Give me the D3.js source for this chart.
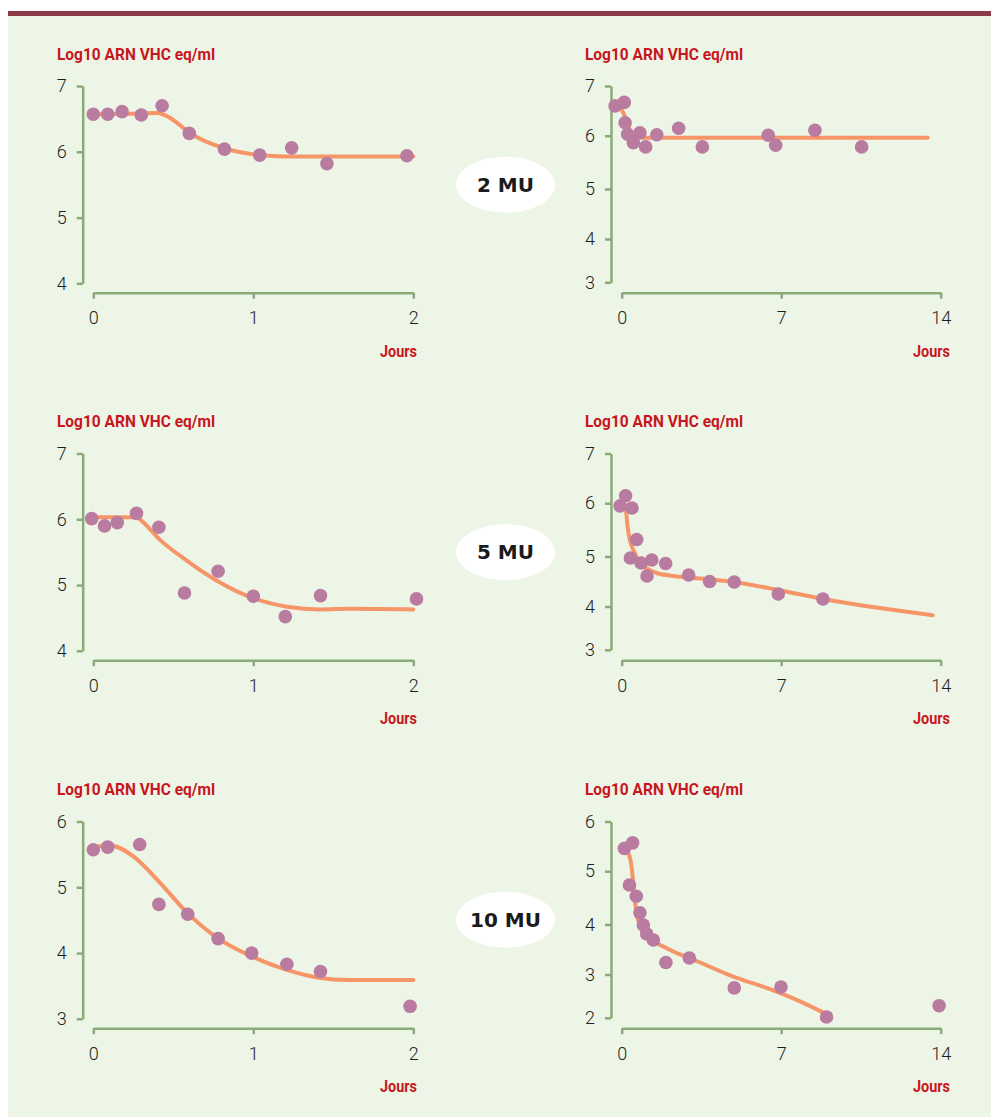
<!DOCTYPE html>
<html>
<head>
<meta charset="utf-8">
<script src="https://cdn.jsdelivr.net/npm/d3@7/dist/d3.min.js"></script>
<style>
  html, body { margin: 0; padding: 0; background: #ffffff; }
  svg { display: block; }
</style>
</head>
<body>
<svg id="chart"></svg>
<script>
// dose labels (one row each)
const doses = ["2 MU", "5 MU", "10 MU"];

// tick labels
const xTicksShort = [0, 1, 2];
const xTicksLong = [0, 7, 14];
const yTicksShort = [[4, 5, 6, 7], [4, 5, 6, 7], [3, 4, 5, 6]];
const yTicksLong = [[3, 4, 5, 6, 7], [3, 4, 5, 6, 7], [2, 3, 4, 5, 6]];

// measured points [jour, log10]  -- 2 jours
const dots2MU_2j = [[0, 6.57], [0.09, 6.57], [0.18, 6.61], [0.30, 6.56], [0.43, 6.70], [0.60, 6.28],
  [0.82, 6.04], [1.04, 5.95], [1.24, 6.06], [1.46, 5.82], [1.96, 5.94]];
const dots5MU_2j = [[-0.01, 6.01], [0.07, 5.90], [0.15, 5.95], [0.27, 6.09], [0.41, 5.88], [0.57, 4.88],
  [0.78, 5.21], [1.00, 4.83], [1.20, 4.52], [1.42, 4.84], [2.02, 4.79]];
const dots10MU_2j = [[0, 5.57], [0.09, 5.61], [0.29, 5.65], [0.41, 4.74], [0.59, 4.59], [0.78, 4.22],
  [0.99, 4.00], [1.21, 3.83], [1.42, 3.72], [1.98, 3.19]];

// measured points -- 14 jours
const dots2MU_14j = [[-0.29, 6.60], [0.11, 6.67], [0.15, 6.26], [0.26, 6.03], [0.51, 5.87], [0.80, 6.06],
  [1.05, 5.79], [1.54, 6.02], [2.50, 6.15], [3.54, 5.79], [6.43, 6.01], [6.76, 5.82], [8.48, 6.11], [10.53, 5.79]];
const dots5MU_14j = [[-0.07, 5.95], [0.17, 6.15], [0.45, 5.91], [0.66, 5.32], [0.38, 4.97], [0.85, 4.87],
  [1.32, 4.93], [1.11, 4.61], [1.93, 4.86], [2.94, 4.63], [3.86, 4.50], [4.94, 4.49], [6.87, 4.25], [8.83, 4.15]];
const dots10MU_14j = [[0.12, 5.46], [0.48, 5.57], [0.34, 4.74], [0.64, 4.53], [0.80, 4.22], [0.95, 3.99],
  [1.10, 3.81], [1.39, 3.69], [1.94, 3.24], [2.97, 3.33], [4.94, 2.69], [6.99, 2.71], [8.99, 2.02], [13.93, 2.28]];

// fitted curves
const fit2MU_2j = [[0, 6.57], [0.25, 6.58], [0.40, 6.59], [0.47, 6.53], [0.54, 6.41], [0.60, 6.29],
  [0.71, 6.15], [0.87, 6.02], [1.04, 5.95], [1.19, 5.93], [2.0, 5.93]];
const fit5MU_2j = [[0, 6.03], [0.27, 6.03], [0.30, 5.98], [0.42, 5.68], [0.58, 5.38], [0.77, 5.07],
  [1.00, 4.80], [1.21, 4.67], [1.42, 4.63], [1.60, 4.64], [2.0, 4.63]];
const fit10MU_2j = [[0, 5.61], [0.10, 5.64], [0.25, 5.47], [0.42, 5.06], [0.58, 4.63], [0.77, 4.24],
  [0.98, 3.96], [1.19, 3.76], [1.40, 3.63], [1.60, 3.59], [2.0, 3.59]];

const fit2MU_14j = [[-0.04, 6.55], [0.15, 6.38], [0.36, 6.11], [0.58, 5.98], [0.95, 5.96], [13.43, 5.96]];
const fit5MU_14j = [[0.19, 5.87], [0.26, 5.56], [0.36, 5.31], [0.58, 5.06], [0.80, 4.86], [1.10, 4.76],
  [1.54, 4.67], [2.27, 4.61], [3.44, 4.56], [4.90, 4.49], [6.87, 4.33], [8.85, 4.15], [13.65, 3.80]];
const fit10MU_14j = [[0.22, 5.43], [0.41, 5.16], [0.48, 4.90], [0.54, 4.59], [0.63, 4.28], [0.80, 3.96],
  [1.10, 3.76], [1.54, 3.63], [2.27, 3.46], [3.44, 3.24], [4.90, 2.95], [6.36, 2.69], [7.82, 2.38], [8.97, 2.09]];

const dotsShort = [dots2MU_2j, dots5MU_2j, dots10MU_2j];
const dotsLong = [dots2MU_14j, dots5MU_14j, dots10MU_14j];
const fitsShort = [fit2MU_2j, fit5MU_2j, fit10MU_2j];
const fitsLong = [fit2MU_14j, fit5MU_14j, fit10MU_14j];

const yTitle = "Log10 ARN VHC eq/ml";
const xTitle = "Jours";

// layout
let width = 991;
let height = 1117;
const rowTop = [86, 453.5, 821.5];
const green = "#8aaa79";
const red = "#c8161e";
const dotColor = "#b97b9f";
const lineColor = "#f69568";
const tickFont = "Roboto, 'DejaVu Sans Condensed', sans-serif";
const titleFont = "Roboto, 'DejaVu Sans Condensed', sans-serif";

let svg = d3.select("#chart").attr("width", width).attr("height", height);

svg.append("rect").attr("x", 8).attr("y", 16).attr("width", width - 8).attr("height", height - 16)
  .attr("fill", "#edf5e6");
svg.append("rect").attr("x", 8).attr("y", 11).attr("width", width - 8).attr("height", 5)
  .attr("fill", "#8c3a47");

const drawPanel = (top, yAxisX, xRange, xTicks, yTicks, yOffsets, dots, fit, titleX, joursX) => {
  const xScale = d3.scaleLinear()
    .domain([xTicks[0], xTicks[xTicks.length - 1]])
    .range(xRange);
  // offsets given from bottom to top for each tick value
  const yScale = d3.scaleLinear()
    .domain(yTicks)
    .range(yOffsets.map((o) => top + o));

  const xAxis = d3.axisBottom(xScale).tickValues(xTicks).tickFormat(d3.format("d"))
    .tickSize(6).tickSizeOuter(0).tickPadding(13);
  const yAxis = d3.axisLeft(yScale).tickValues(yTicks).tickFormat(d3.format("d"))
    .tickSize(6).tickSizeOuter(0).tickPadding(10);

  const gx = svg.append("g")
    .attr("transform", "translate(0," + (top + 206.7) + ")")
    .call(xAxis);
  const gy = svg.append("g")
    .attr("transform", "translate(" + yAxisX + ",0)")
    .call(yAxis);

  [gx, gy].forEach((g) => {
    g.attr("font-family", tickFont).attr("font-size", 18).attr("font-weight", 300);
    g.selectAll("path, line").attr("stroke", green).attr("stroke-width", 2.5);
    g.selectAll("text").attr("fill", "#1e1e1e");
  });

  svg.append("path")
    .datum(fit)
    .attr("fill", "none")
    .attr("stroke", lineColor)
    .attr("stroke-width", 4)
    .attr("stroke-linecap", "round")
    .attr("d", d3.line()
      .x((d) => xScale(d[0]))
      .y((d) => yScale(d[1]))
      .curve(d3.curveMonotoneX));

  svg.append("g").selectAll("circle")
    .data(dots)
    .enter()
    .append("circle")
    .attr("cx", (d) => xScale(d[0]))
    .attr("cy", (d) => yScale(d[1]))
    .attr("r", 6.8)
    .attr("fill", dotColor);

  svg.append("text")
    .attr("x", titleX)
    .attr("y", top - 26.5)
    .attr("font-family", titleFont)
    .attr("font-weight", "bold")
    .attr("font-size", 17)
    .attr("textLength", 158)
    .attr("lengthAdjust", "spacingAndGlyphs")
    .attr("fill", red)
    .text(yTitle);

  svg.append("text")
    .attr("x", joursX - 37)
    .attr("y", top + 270.5)
    .attr("font-family", titleFont)
    .attr("font-weight", "bold")
    .attr("font-size", 17)
    .attr("textLength", 37)
    .attr("lengthAdjust", "spacingAndGlyphs")
    .attr("fill", red)
    .text(xTitle);
};

doses.forEach((dose, i) => {
  const top = rowTop[i];
  drawPanel(top, 82.7, [93.3, 413.3], xTicksShort, yTicksShort[i], [197.3, 131.6, 65.8, 0],
    dotsShort[i], fitsShort[i], 57, 417);
  drawPanel(top, 611, [621.7, 940.7], xTicksLong, yTicksLong[i], [196.3, 153, 103, 49.7, 0],
    dotsLong[i], fitsLong[i], 585, 950);

  const cy = 184.7 + i * 367.5;
  svg.append("ellipse")
    .attr("cx", 505.5).attr("cy", cy).attr("rx", 49.5).attr("ry", 28)
    .attr("fill", "#ffffff");
  svg.append("text")
    .attr("x", 505.5).attr("y", cy)
    .attr("dy", "0.36em")
    .attr("text-anchor", "middle")
    .attr("font-family", "'DejaVu Sans', sans-serif")
    .attr("font-weight", "bold")
    .attr("font-size", 20)
    .attr("fill", "#1b1b1b")
    .text(dose);
});
</script>
</body>
</html>
